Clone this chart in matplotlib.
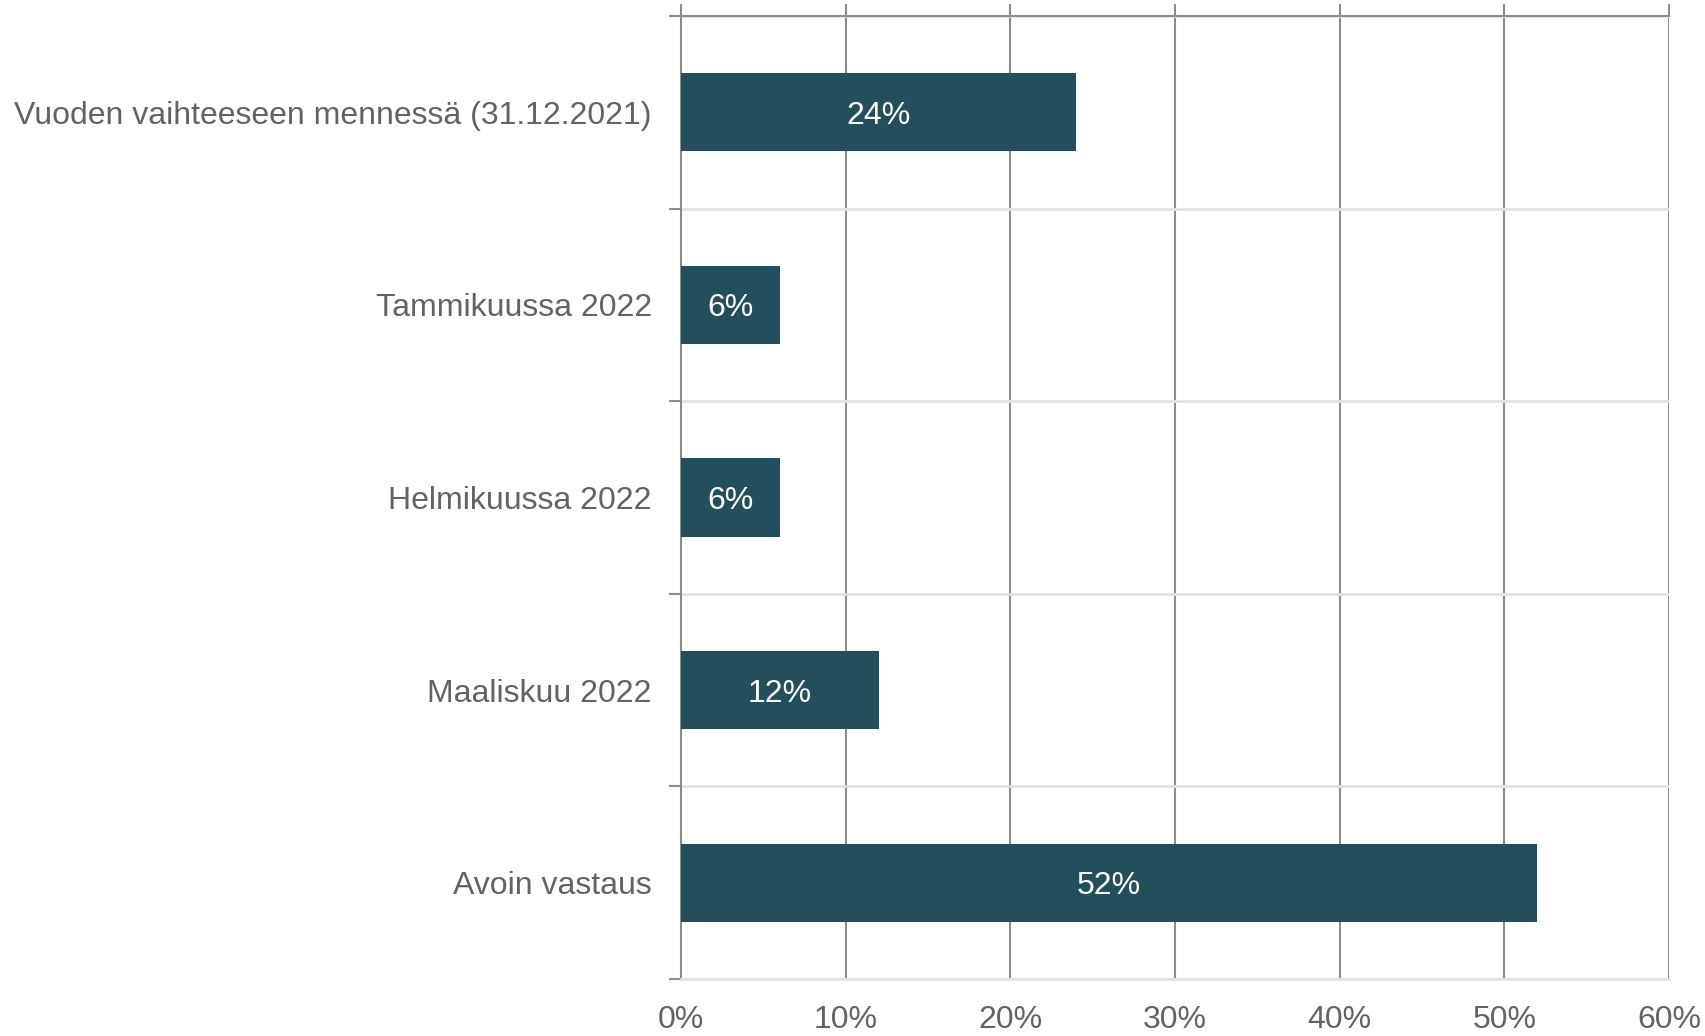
import matplotlib
matplotlib.use("Agg")
import matplotlib.pyplot as plt
import numpy as np

categories = ["Vuoden vaihteeseen mennessä (31.12.2021)", "Tammikuussa 2022",
              "Helmikuussa 2022", "Maaliskuu 2022", "Avoin vastaus"]
values = [24, 6, 6, 12, 52]
xticks = [0, 10, 20, 30, 40, 50, 60]
xtick_labels = ["0%", "10%", "20%", "30%", "40%", "50%", "60%"]

plt.rcParams['font.family'] = ['Liberation Sans', 'DejaVu Sans']
DPI = 100
fig = plt.figure(figsize=(17.06, 10.36), dpi=DPI)
ax = fig.add_axes([681/1706, 1-979/1036, (1669-681)/1706, (979-16)/1036])

bar_color = '#234e5b'
grid_dark = '#8c8c8c'
grid_light = '#e2e2e2'
text_color = '#636363'
FS = 23

y = np.arange(len(categories))
bars = ax.barh(y, values, height=0.405, color=bar_color, zorder=3)
for yi, v in zip(y, values):
    ax.text(v/2, yi, f"{v}%", ha='center', va='center_baseline', color='white', fontsize=FS, zorder=4)

ax.set_xlim(0, 60)
ax.set_ylim(len(categories)-0.5, -0.5)

ax.set_xticks(xticks)
ax.set_xticklabels(xtick_labels)
ax.set_yticks(y)
ax.set_yticklabels(categories)
ax.set_yticks(np.arange(-0.5, len(categories)), minor=True)

ax.tick_params(axis='x', which='major', top=True, bottom=False, labeltop=False, labelbottom=True,
               direction='out', length=9, width=1.5, color=grid_dark, labelsize=FS,
               labelcolor=text_color, pad=10)
ax.tick_params(axis='y', which='major', left=False, length=0, labelsize=FS, labelcolor=text_color, pad=21)
ax.tick_params(axis='y', which='minor', left=True, direction='out', length=9, width=1.5, color=grid_dark)

ax.xaxis.grid(True, which='major', color=grid_dark, linewidth=1.5, zorder=1)
ax.yaxis.grid(True, which='minor', color=grid_light, linewidth=2, zorder=0)
ax.set_axisbelow(True)

ax.spines['right'].set_visible(False)
ax.spines['top'].set_color(grid_dark)
ax.spines['top'].set_linewidth(1.5)
ax.spines['left'].set_color(grid_dark)
ax.spines['left'].set_linewidth(1.5)
ax.spines['bottom'].set_color(grid_light)
ax.spines['bottom'].set_linewidth(2)

fig.savefig("out.png", dpi=DPI)
